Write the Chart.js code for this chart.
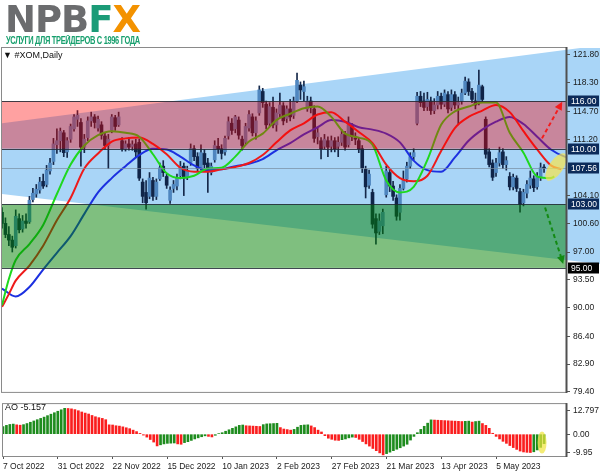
<!DOCTYPE html>
<html><head><meta charset="utf-8">
<script src="https://cdn.jsdelivr.net/npm/chart.js"></script>
<style>
html,body{margin:0;padding:0;background:#fff;}
#wrap{position:relative;width:600px;height:476px;overflow:hidden;background:#fff;}
canvas{position:absolute;left:0;}
#c1{top:0;width:600px;height:400px;}
#c2{top:396px;width:600px;height:80px;}
.t{position:absolute;white-space:nowrap;}
#logo{left:5px;top:1px;font-family:'DejaVu Sans',sans-serif;font-weight:bold;font-size:37px;line-height:37px;letter-spacing:-1px;color:#6b6c6e;}
#logo .f{color:#1b9b77}
#logo .x{color:#f39200}
#tag{left:6px;top:35px;font-family:'Liberation Sans',sans-serif;font-weight:bold;font-size:7.5px;letter-spacing:-0.35px;color:#18a06e;transform:scaleY(1.35);transform-origin:left top;}
#title{left:3px;top:50px;font-family:'Liberation Sans',sans-serif;font-size:9px;color:#111;}
#aol{left:5px;top:402px;font-family:'Liberation Sans',sans-serif;font-size:9px;color:#111;}
</style></head>
<body><div id="wrap">
<canvas id="c1" width="600" height="400"></canvas>
<canvas id="c2" width="600" height="80"></canvas>
<div class="t" id="logo">NPB<span class="f">F</span><span class="x">X</span></div>
<div class="t" id="tag">УСЛУГИ ДЛЯ ТРЕЙДЕРОВ С 1996 ГОДА</div>
<div class="t" id="title">&#9660; #XOM,Daily</div>
<div class="t" id="aol">AO -5.157</div>
</div>
<script>
// ---------- DATA ----------
const xTickIdx = [0,16,32,48,64,80,96,112,128,144];
const xTickLabels = ['7 Oct 2022','31 Oct 2022','22 Nov 2022','15 Dec 2022','10 Jan 2023','2 Feb 2023','27 Feb 2023','21 Mar 2023','13 Apr 2023','5 May 2023'];
const yTicks = [121.8,118.3,114.7,111.2,104.1,100.6,97.0,93.5,90.0,86.4,82.9,79.4];
const aoTicks = [12.797,0,-9.95];
const aoTickLabels = ['12.797','0.00','-9.95'];

const open = [102.0,100.6,99.2,98.5,97.8,101.2,99.9,100.9,100.8,103.6,
104.3,104.8,105.9,105.5,107.2,108.4,110.5,111.0,112.0,109.6,
111.2,112.5,113.7,113.3,110.2,111.4,113.5,114.0,112.6,113.0,
111.6,110.4,112.3,113.9,113.0,111.0,110.0,110.6,110.3,110.6,
110.8,105.8,104.5,104.0,106.0,104.0,106.2,107.8,106.5,103.5,
105.0,105.3,106.6,107.8,106.5,108.3,110.0,109.0,107.6,109.4,
108.2,107.0,108.6,110.3,110.0,109.6,111.6,113.2,112.5,113.6,
111.2,110.8,112.6,114.0,112.0,114.5,117.2,115.6,113.2,115.2,
113.0,114.4,115.4,113.8,115.0,114.2,116.0,118.0,117.2,115.0,
116.0,115.0,111.5,111.0,110.3,111.0,110.3,111.0,110.3,110.8,
111.8,110.5,112.8,111.3,111.0,110.0,107.4,105.4,104.5,101.2,
99.6,100.3,104.2,107.0,105.3,103.8,102.0,105.0,106.2,107.8,
109.0,113.2,116.6,116.0,115.3,116.0,114.8,115.5,116.6,115.6,
116.8,115.2,116.8,115.5,116.0,117.0,118.4,117.2,116.0,115.8,
117.8,113.7,109.6,108.2,107.0,108.2,109.6,108.0,106.5,105.2,
106.3,104.6,103.2,104.4,105.4,106.2,105.2,106.4,107.6];
const high = [102.6,101.3,100.2,99.0,102.3,101.8,101.6,101.8,104.0,105.0,
105.5,106.4,106.8,107.9,108.8,111.3,112.5,112.6,112.3,111.4,
113.1,114.3,114.8,113.8,111.8,114.0,114.6,114.3,114.1,113.4,
112.0,111.8,114.3,114.2,114.6,111.4,111.0,111.4,111.0,111.2,
111.2,106.2,106.0,107.0,106.4,106.2,108.2,108.5,106.8,105.2,
106.0,106.8,108.4,108.2,107.8,110.6,110.4,109.5,110.5,109.9,
108.8,108.2,111.0,111.3,110.5,111.6,114.0,113.8,114.2,114.0,
111.6,113.2,114.8,114.4,114.0,117.9,117.6,116.0,115.8,116.5,
115.0,117.0,115.8,115.4,116.2,116.5,119.5,118.4,118.5,116.6,
116.5,115.4,112.6,111.4,111.8,111.5,111.6,111.4,111.5,112.4,
112.2,114.0,113.2,112.0,111.4,110.4,107.8,107.3,104.9,101.8,
101.8,102.4,107.8,107.4,105.9,104.2,105.5,107.2,108.3,109.5,
110.0,117.1,117.2,117.0,117.1,116.5,116.3,117.2,117.0,117.4,
117.2,117.4,117.2,116.5,117.5,119.0,118.8,117.6,117.0,119.9,
118.0,114.0,110.0,108.6,108.8,110.2,110.0,109.0,107.0,106.8,
106.6,105.0,104.9,106.0,107.2,106.6,107.0,108.2,108.0];
const low = [100.0,98.8,97.8,97.0,97.5,99.4,99.5,100.0,100.6,103.3,
103.9,104.4,105.0,105.2,106.8,108.0,109.4,109.6,109.0,108.9,
110.8,112.2,112.8,107.8,109.5,111.0,112.8,112.6,112.2,111.2,
109.9,107.5,112.0,112.3,112.8,109.7,109.7,109.8,109.8,109.0,
106.0,103.2,102.4,103.7,103.5,103.6,106.0,106.5,105.0,103.1,
104.5,104.8,106.2,104.1,106.1,107.9,108.5,107.2,107.3,107.6,
104.5,106.7,108.3,109.4,108.7,109.2,111.2,111.8,112.0,111.2,
109.8,110.5,112.2,111.6,111.2,114.2,115.2,112.5,112.8,112.6,
112.2,114.0,113.0,113.3,113.5,113.8,115.8,116.2,116.0,114.7,
114.5,110.8,110.6,108.7,110.0,109.0,109.6,109.6,109.0,110.4,
109.8,110.2,111.0,110.5,109.5,107.0,103.8,105.0,100.0,98.0,
99.2,99.3,103.9,104.6,103.5,101.0,101.0,104.8,105.8,107.5,
108.6,113.0,115.3,114.8,114.8,114.3,114.4,115.0,115.0,115.3,
114.5,114.8,115.0,113.0,115.6,116.8,116.7,115.8,115.0,115.5,
115.8,108.8,107.7,106.0,106.5,107.8,107.5,107.3,104.8,104.8,
104.6,102.0,102.8,103.8,105.0,104.6,104.9,106.0,107.0];
const close = [100.6,99.2,98.5,97.6,101.5,99.8,100.9,100.6,103.5,104.4,
104.9,105.8,105.3,107.3,108.2,110.6,111.0,112.2,109.5,111.0,
112.8,114.0,114.2,110.2,111.2,113.5,114.0,113.3,113.7,111.7,
110.4,111.2,114.0,112.8,114.0,110.0,110.6,110.2,110.5,109.6,
106.3,104.0,103.2,106.3,104.0,105.8,107.6,107.0,105.4,104.8,
105.5,106.4,107.8,106.3,107.2,110.0,109.0,107.5,109.5,108.0,
107.2,107.8,110.4,110.0,109.4,111.3,113.4,112.3,114.0,111.7,
110.4,112.8,114.3,112.0,113.5,117.4,115.8,113.0,115.3,113.0,
114.5,115.5,113.5,115.0,114.0,116.0,118.6,117.4,117.8,116.0,
115.2,111.3,112.0,110.0,111.2,110.2,111.0,110.0,110.8,111.8,
110.2,113.0,111.5,111.2,110.0,107.6,105.2,106.8,100.5,99.4,
100.9,102.0,107.2,105.3,104.0,101.5,105.0,106.0,107.8,109.0,
109.5,116.6,115.8,115.2,116.2,114.8,115.5,116.6,115.6,117.0,
115.0,116.8,115.5,115.8,117.0,118.5,117.2,116.2,115.5,118.0,
116.2,109.3,108.0,106.4,108.2,109.5,108.0,108.5,105.2,106.4,
105.0,103.0,104.5,105.5,106.3,105.1,106.5,107.6,107.56];

// Alligator lines
const lipsIdx = [0,2,4,8,12,16,20,24,28,32,36,40,44,48,52,56,60,64,68,72,76,80,84,88,92,96,100,104,108,112,116,120,124,128,132,136,140,144,148,152,156,160,161];
const lips = [90.3,93.6,96.0,98.0,100.4,104.3,108.0,110.4,111.7,112.2,112.0,111.5,109.3,106.9,106.3,106.6,107.5,107.6,109.0,110.9,111.9,113.6,114.4,115.1,115.3,114.0,111.9,111.4,110.5,106.0,104.5,105.2,108.6,113.0,114.7,115.3,115.8,115.8,112.0,109.5,106.5,106.3,106.5];
const teethIdx = [0,2,4,8,12,16,20,24,28,32,36,40,44,48,52,56,60,64,68,72,76,80,84,88,92,96,100,104,108,112,116,120,124,128,132,136,140,144,148,152,156,160,163];
const teeth = [90.1,91.7,93.4,95.3,97.8,101.0,103.8,107.5,109.4,110.9,111.3,111.4,110.6,109.3,107.6,107.1,107.1,107.4,107.7,108.2,109.2,110.8,112.3,113.2,114.3,114.6,113.4,112.1,110.7,108.0,106.3,105.9,106.6,109.7,112.6,114.0,114.8,115.5,114.6,112.2,109.9,107.9,107.4];
const jawIdx = [0,4,8,12,16,20,24,28,32,36,40,44,48,52,56,60,64,68,72,76,80,84,88,92,96,100,104,108,112,116,120,124,128,132,136,140,144,148,152,156,160,164,166];
const jaw = [92.4,91.4,92.6,94.8,96.9,99.0,101.8,104.5,106.3,107.8,109.2,110.0,109.9,109.0,107.9,107.3,107.4,107.8,108.1,108.7,109.8,110.7,111.8,112.7,113.6,113.4,112.7,112.4,111.9,110.8,108.5,107.3,107.1,108.9,111.0,112.4,113.4,114.0,113.1,111.5,109.9,109.0,108.8];

// Awesome Oscillator
const ao = [4.2,4.8,5.3,5.5,5.1,4.9,5.2,5.8,6.5,7.2,
7.9,8.6,9.3,10.1,10.9,11.7,12.5,13.3,14.1,14.0,
13.8,13.4,12.8,12.1,11.5,11.0,10.2,9.5,9.0,8.6,
7.9,5.1,5.0,4.6,4.4,4.0,3.5,3.0,2.2,1.4,
0.4,-0.5,-1.6,-2.9,-4.3,-6.4,-5.8,-5.3,-5.0,-4.9,
-4.8,-5.3,-5.5,-4.6,-4.1,-3.4,-2.6,-2.0,-1.4,-0.9,
-1.2,-1.5,-0.6,0.3,0.8,1.6,2.4,3.2,4.0,4.8,
5.0,4.6,4.5,4.4,4.3,4.2,5.2,5.6,5.7,5.8,
5.9,3.6,2.8,2.5,2.2,2.6,3.8,4.8,5.0,5.1,
4.5,3.6,2.2,1.2,-0.8,-2.2,-2.8,-3.3,-3.4,-3.0,
-2.6,-2.0,-1.6,-1.8,-2.8,-4.0,-5.3,-6.5,-7.8,-9.0,
-10.2,-11.3,-10.6,-9.8,-9.0,-8.2,-7.4,-6.5,-5.5,-3.2,
-1.2,0.8,2.6,4.3,6.0,7.8,7.7,7.6,7.5,7.4,
7.3,7.2,7.1,7.0,6.9,7.0,7.1,6.6,6.9,7.1,
5.8,4.8,3.2,0.5,-1.2,-2.6,-3.9,-5.0,-6.2,-7.3,
-8.3,-9.2,-9.7,-9.9,-10.0,-9.6,-8.6,-7.2,-5.157];

// Drawn objects (price levels / index positions)
const redBand = [116, 110];
const greenBand = [103, 95];
const lastPrice = 107.56;
const boxLevels = [116, 110, 107.56, 103, 95];
const wedgeIdx = [0, 174.4];
const wedgeTop = [113.2, 123.0];
const wedgeBottom = [104.3, 95.5];
const upArrow = {from:[157.4, 111.3], to:[163.3, 115.9]};
const downArrow = {from:[158.3, 102.6], to:[163.6, 95.5]};
const mainEllipse = [161.5, 107.7];
const aoEllipse = [157.4, -4.6];

// ---------- STYLE ----------
const FONT = 'Liberation Sans, Arial, sans-serif';
const X_MIN = 0, X_MAX = 164.4;
const idx = open.map((_, i) => i);

function arrow(ctx, x1, y1, x2, y2, color) {
  ctx.save();
  ctx.strokeStyle = color; ctx.fillStyle = color; ctx.lineWidth = 2;
  const ang = Math.atan2(y2 - y1, x2 - x1);
  ctx.setLineDash([4, 3]);
  ctx.beginPath(); ctx.moveTo(x1, y1);
  ctx.lineTo(x2 - 7 * Math.cos(ang), y2 - 7 * Math.sin(ang)); ctx.stroke();
  ctx.setLineDash([]);
  ctx.beginPath(); ctx.moveTo(x2, y2);
  ctx.lineTo(x2 - 9 * Math.cos(ang - 0.45), y2 - 9 * Math.sin(ang - 0.45));
  ctx.lineTo(x2 - 9 * Math.cos(ang + 0.45), y2 - 9 * Math.sin(ang + 0.45));
  ctx.closePath(); ctx.fill();
  ctx.restore();
}

const mainDecor = {
  id: 'mainDecor',
  beforeDraw(chart) {
    const {ctx, chartArea: a} = chart; const xs = chart.scales.x, ys = chart.scales.y;
    ctx.save();
    ctx.beginPath(); ctx.rect(a.left, a.top, chart.width - a.left, a.bottom - a.top); ctx.clip();
    ctx.beginPath();
    ctx.moveTo(xs.getPixelForValue(wedgeIdx[0]), ys.getPixelForValue(wedgeTop[0]));
    ctx.lineTo(xs.getPixelForValue(wedgeIdx[1]), ys.getPixelForValue(wedgeTop[1]));
    ctx.lineTo(xs.getPixelForValue(wedgeIdx[1]), ys.getPixelForValue(wedgeBottom[1]));
    ctx.lineTo(xs.getPixelForValue(wedgeIdx[0]), ys.getPixelForValue(wedgeBottom[0]));
    ctx.closePath(); ctx.fillStyle = '#a9d5f7'; ctx.fill();
    ctx.restore();
  },
  afterDatasetsDraw(chart) {
    const {ctx, chartArea: a} = chart; const xs = chart.scales.x, ys = chart.scales.y;
    ctx.save();
    ctx.beginPath(); ctx.rect(a.left, a.top, a.right - a.left, a.bottom - a.top); ctx.clip();
    const yp = Math.round(ys.getPixelForValue(lastPrice)) + 0.5;
    ctx.strokeStyle = 'rgba(120,140,160,0.7)'; ctx.lineWidth = 1;
    ctx.beginPath(); ctx.moveTo(a.left, yp); ctx.lineTo(a.right, yp); ctx.stroke();
    const band = (lv, col) => {
      const y1 = ys.getPixelForValue(lv[0]), y2 = ys.getPixelForValue(lv[1]);
      ctx.fillStyle = col; ctx.fillRect(a.left, y1, a.right - a.left, y2 - y1);
    };
    band(redBand, 'rgba(255,0,0,0.37)');
    band(greenBand, 'rgba(0,128,0,0.5)');
    ctx.strokeStyle = 'rgba(30,40,50,0.85)'; ctx.lineWidth = 1;
    [redBand[0], redBand[1], greenBand[0], greenBand[1]].forEach(v => {
      const y = Math.round(ys.getPixelForValue(v)) + 0.5;
      ctx.beginPath(); ctx.moveTo(a.left, y); ctx.lineTo(a.right, y); ctx.stroke();
    });
    ctx.fillStyle = 'rgba(245,228,80,0.72)';
    ctx.beginPath();
    ctx.ellipse(xs.getPixelForValue(mainEllipse[0]), ys.getPixelForValue(mainEllipse[1]), 7, 16, 0.6, 0, Math.PI * 2);
    ctx.fill();
    ctx.restore();
    arrow(ctx, xs.getPixelForValue(upArrow.from[0]), ys.getPixelForValue(upArrow.from[1]),
      xs.getPixelForValue(upArrow.to[0]), ys.getPixelForValue(upArrow.to[1]), '#f41c1c');
    arrow(ctx, xs.getPixelForValue(downArrow.from[0]), ys.getPixelForValue(downArrow.from[1]),
      xs.getPixelForValue(downArrow.to[0]), ys.getPixelForValue(downArrow.to[1]), '#138a13');
  },
  afterDraw(chart) {
    const {ctx, chartArea: a} = chart; const ys = chart.scales.y;
    ctx.save();
    ctx.strokeStyle = '#8a8a8a'; ctx.lineWidth = 1;
    ctx.strokeRect(a.left - 0.5, a.top - 0.5, a.right - a.left + 1, a.bottom - a.top + 1);
    ctx.strokeStyle = '#505050'; ctx.lineWidth = 2;
    ctx.beginPath(); ctx.moveTo(a.right + 0.5, a.top - 1); ctx.lineTo(a.right + 0.5, a.bottom + 1); ctx.stroke();
    ctx.font = '8.5px ' + FONT; ctx.textBaseline = 'middle'; ctx.textAlign = 'left';
    boxLevels.forEach(v => {
      const y = Math.round(ys.getPixelForValue(v));
      ctx.fillStyle = v === greenBand[1] ? '#000000' : '#0c2b5a';
      ctx.fillRect(a.right + 2, y - 5.5, 31, 11);
      ctx.fillStyle = '#ffffff';
      ctx.fillText(v.toFixed(2), a.right + 5, y + 0.5);
    });
    ctx.restore();
  }
};

const candleBull = '#4f86bf', candleBear = '#102448', wickCol = '#15284a';

new Chart(document.getElementById('c1'), {
  type: 'bar',
  data: {
    datasets: [
      {type: 'line', data: lipsIdx.map((x, k) => ({x, y: lips[k]})), borderColor: '#1ed81e', borderWidth: 2, pointRadius: 0, cubicInterpolationMode: 'monotone', order: 0},
      {type: 'line', data: teethIdx.map((x, k) => ({x, y: teeth[k]})), borderColor: '#ee1a1a', borderWidth: 2, pointRadius: 0, cubicInterpolationMode: 'monotone', order: 0},
      {type: 'line', data: jawIdx.map((x, k) => ({x, y: jaw[k]})), borderColor: '#1c30e0', borderWidth: 2, pointRadius: 0, cubicInterpolationMode: 'monotone', order: 0},
      {data: idx.map(i => ({x: i, y: [low[i], high[i]]})), backgroundColor: wickCol, barThickness: 1, grouped: false, order: 2},
      {data: idx.map(i => ({x: i, y: [open[i], close[i]]})), backgroundColor: c => close[c.dataIndex] >= open[c.dataIndex] ? candleBull : candleBear,
        barThickness: 3, minBarLength: 1, grouped: false, order: 1}
    ]
  },
  options: {
    responsive: false, animation: false, events: [],
    layout: {padding: {top: 48, left: 2, right: 0, bottom: 5}},
    plugins: {legend: {display: false}, tooltip: {enabled: false}},
    scales: {
      x: {type: 'linear', min: X_MIN, max: X_MAX, offset: false, display: false, grid: {offset: false}},
      y: {position: 'right', min: 79.4, max: 122.67,
        afterBuildTicks: s => { s.ticks = yTicks.map(v => ({value: v})); },
        afterFit: s => { s.width = 34; },
        ticks: {autoSkip: false, callback: v => Number(v).toFixed(2), font: {size: 8.5, family: FONT}, color: '#1a1a1a', padding: 3},
        grid: {drawOnChartArea: false, drawTicks: true, tickLength: 4, color: '#555'},
        border: {display: false}}
    }
  },
  plugins: [mainDecor]
});

const aoDecor = {
  id: 'aoDecor',
  afterDatasetsDraw(chart) {
    const {ctx, chartArea: a} = chart; const xs = chart.scales.x, ys = chart.scales.y;
    ctx.save();
    ctx.beginPath(); ctx.rect(a.left, a.top, a.right - a.left, a.bottom - a.top); ctx.clip();
    ctx.fillStyle = 'rgba(240,228,60,0.7)';
    ctx.beginPath();
    ctx.ellipse(xs.getPixelForValue(aoEllipse[0]), ys.getPixelForValue(aoEllipse[1]), 4.5, 11, 0, 0, Math.PI * 2);
    ctx.fill();
    ctx.restore();
  },
  afterDraw(chart) {
    const {ctx, chartArea: a} = chart;
    ctx.save();
    ctx.strokeStyle = '#8a8a8a'; ctx.lineWidth = 1;
    ctx.strokeRect(a.left - 0.5, a.top - 0.5, a.right - a.left + 1, a.bottom - a.top + 1);
    ctx.strokeStyle = '#505050'; ctx.lineWidth = 2;
    ctx.beginPath(); ctx.moveTo(a.right + 0.5, a.top - 1); ctx.lineTo(a.right + 0.5, a.bottom + 1); ctx.stroke();
    ctx.restore();
  }
};

new Chart(document.getElementById('c2'), {
  type: 'bar',
  data: {
    datasets: [{
      data: idx.map(i => ({x: i, y: ao[i]})),
      backgroundColor: c => (c.dataIndex === 0 || ao[c.dataIndex] > ao[c.dataIndex - 1]) ? '#1e8c1e' : '#fa1e1e',
      barThickness: 2, grouped: false
    }]
  },
  options: {
    responsive: false, animation: false, events: [],
    layout: {padding: {top: 2, left: 2, right: 0, bottom: 0}},
    plugins: {legend: {display: false}, tooltip: {enabled: false}},
    scales: {
      x: {type: 'linear', min: X_MIN, max: X_MAX, offset: false,
        afterBuildTicks: s => { s.ticks = xTickIdx.map(v => ({value: v})); },
        afterFit: s => { s.height = 20; },
        ticks: {autoSkip: false, minRotation: 0, maxRotation: 0, align: 'start', padding: 3,
          callback: (v, i) => xTickLabels[i], font: {size: 8.5, family: FONT}, color: '#1a1a1a'},
        grid: {drawOnChartArea: false, drawTicks: true, tickLength: 3, color: '#555', offset: false},
        border: {display: false}},
      y: {position: 'right', min: -11.9, max: 16.4,
        afterBuildTicks: s => { s.ticks = aoTicks.map(v => ({value: v})); },
        afterFit: s => { s.width = 34; },
        ticks: {autoSkip: false, callback: (v, i) => aoTickLabels[i], font: {size: 8.5, family: FONT}, color: '#1a1a1a', padding: 3},
        grid: {drawOnChartArea: false, drawTicks: true, tickLength: 4, color: '#555'},
        border: {display: false}}
    }
  },
  plugins: [aoDecor]
});
</script>
</body></html>
